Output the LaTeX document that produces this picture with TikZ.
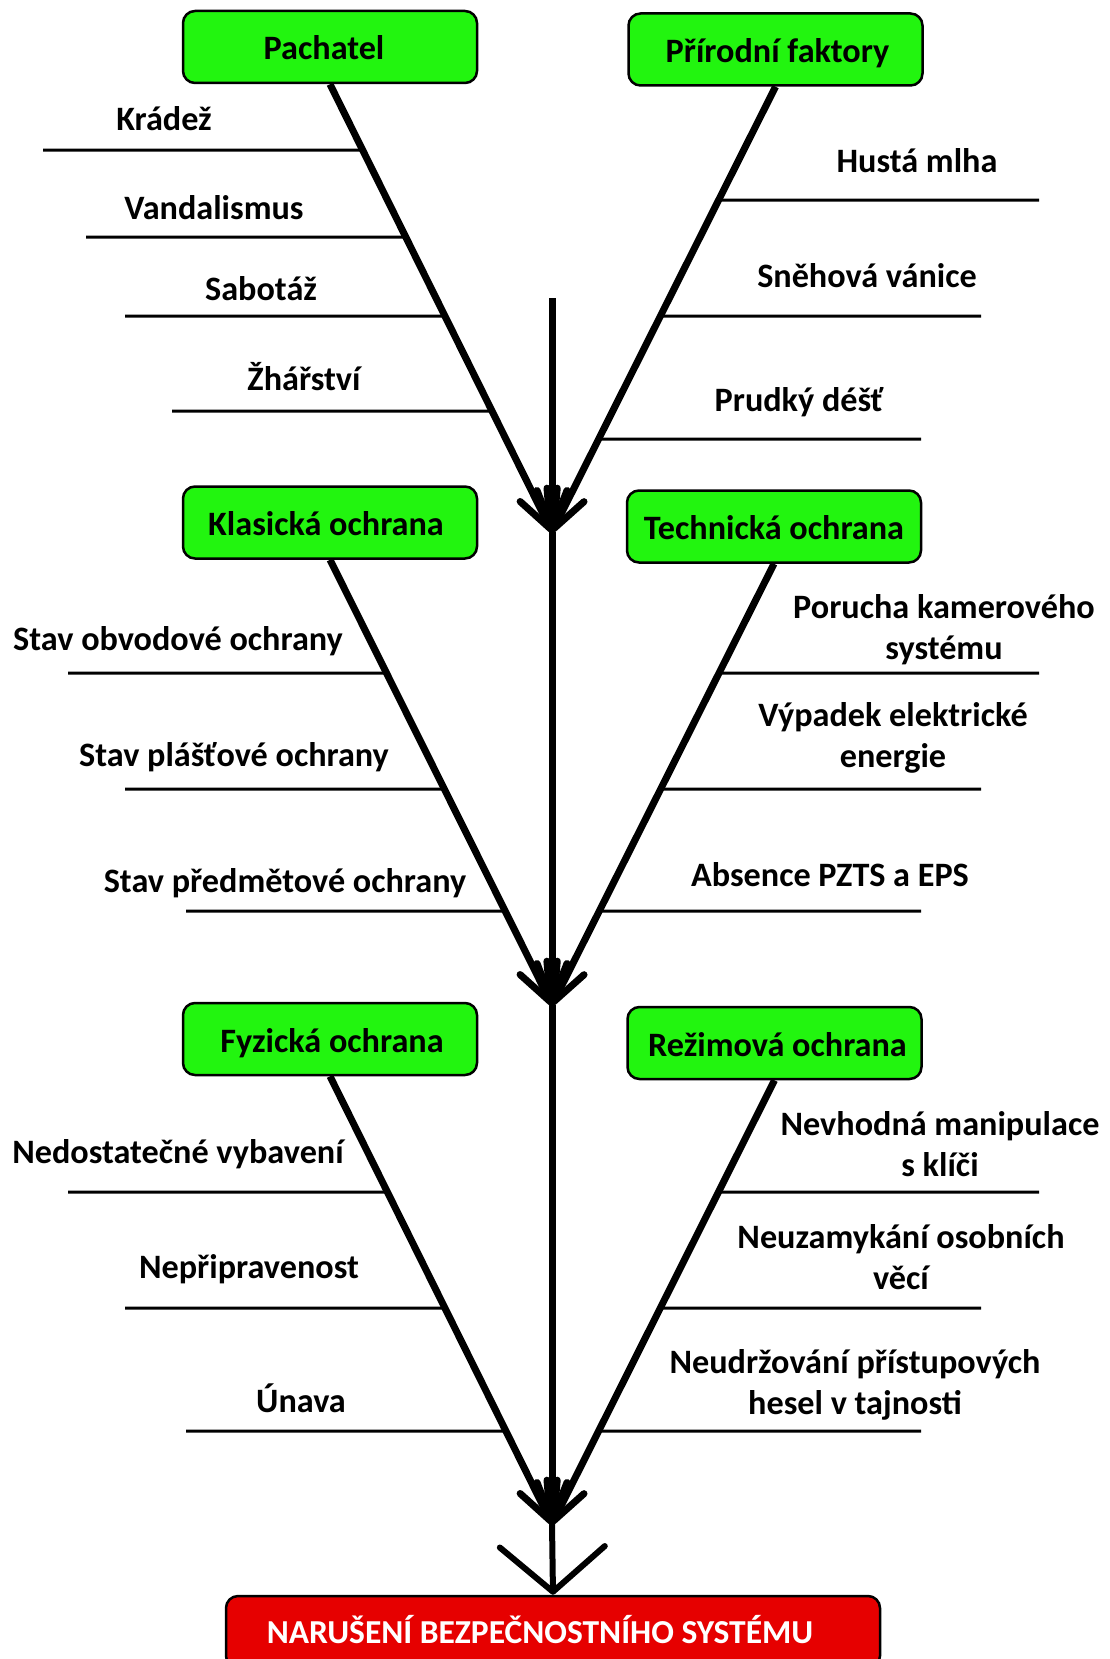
\documentclass[tikz,border=0pt]{standalone}
\usepackage{fontspec}
\setmainfont{Carlito}
\usetikzlibrary{arrows.meta,calc}
\definecolor{boxgreen}{RGB}{34,245,15}
\definecolor{boxred}{RGB}{230,0,0}
\newcommand\ribline[3]{\draw[rib] (#1) -- (intersection cs: first line={(#2)--(#3)}, second line={(#1)--([xshift=10pt]#1)});}
\begin{document}
\begin{tikzpicture}[x=1pt,y=-1pt,
  every node/.style={font=\fontsize{34.2}{41}\selectfont\bfseries},
  catbox/.style={draw=black, line width=2.5pt, fill=boxgreen, rounded corners=12pt,
    minimum width=294pt, minimum height=72pt, inner sep=0pt, text height=26pt, text depth=0pt},
  goalbox/.style={draw=black, line width=2.5pt, fill=boxred, rounded corners=12pt, text=white,
    minimum width=654pt, minimum height=72pt, inner sep=0pt, text height=23pt, text depth=0pt,
    font=\fontsize{33.5}{40}\selectfont\bfseries},
  lbl/.style={anchor=base, align=center, inner sep=0pt},
  spine/.style={line width=7pt, -{Straight Barb[length=38pt,width=30pt,round]}},
  bigspine/.style={line width=6pt, -{Straight Barb[length=45pt,width=105pt,round]}},
  rib/.style={line width=3pt},
]
\useasboundingbox (0,0) rectangle (1109,1659);

% category boxes
\node[catbox] (pach) at (330,47) {Pachatel\hspace*{12pt}};
\node[catbox] (prir) at (775.5,49.5) {\hspace*{4pt}Přírodní faktory};
\node[catbox] (klas) at (330,522.5) {Klasická ochrana\hspace*{8pt}};
\node[catbox] (tech) at (774,526.5) {Technická ochrana};
\node[catbox] (fyz) at (330,1039) {\hspace*{4pt}Fyzická ochrana};
\node[catbox] (rez) at (774.5,1043) {\hspace*{6pt}Režimová ochrana};
\node[goalbox] (goal) at (553,1632) {NARUŠENÍ BEZPEČNOSTNÍHO SYSTÉMU\hspace*{26pt}};

% spine points
\coordinate (top) at (552,298);
\coordinate (t1) at (552,532);
\coordinate (t2) at (552,1005);
\coordinate (t3) at (552,1524);

% rib free ends
\coordinate (a1) at (43,150);  \coordinate (a2) at (86,237);  \coordinate (a3) at (125,316); \coordinate (a4) at (172,411);
\coordinate (b1) at (1039,200); \coordinate (b2) at (981,316); \coordinate (b3) at (921,439);
\coordinate (c1) at (68,673);  \coordinate (c2) at (125,789); \coordinate (c3) at (186,911);
\coordinate (d1) at (1039,673); \coordinate (d2) at (981,789); \coordinate (d3) at (921,911);
\coordinate (e1) at (68,1192); \coordinate (e2) at (125,1308); \coordinate (e3) at (186,1431);
\coordinate (f1) at (1039,1192); \coordinate (f2) at (981,1308); \coordinate (f3) at (921,1431);

% ribs
\ribline{a1}{pach.south}{t1}\ribline{a2}{pach.south}{t1}\ribline{a3}{pach.south}{t1}\ribline{a4}{pach.south}{t1}
\ribline{b1}{prir.south}{t1}\ribline{b2}{prir.south}{t1}\ribline{b3}{prir.south}{t1}
\ribline{c1}{klas.south}{t2}\ribline{c2}{klas.south}{t2}\ribline{c3}{klas.south}{t2}
\ribline{d1}{tech.south}{t2}\ribline{d2}{tech.south}{t2}\ribline{d3}{tech.south}{t2}
\ribline{e1}{fyz.south}{t3}\ribline{e2}{fyz.south}{t3}\ribline{e3}{fyz.south}{t3}
\ribline{f1}{rez.south}{t3}\ribline{f2}{rez.south}{t3}\ribline{f3}{rez.south}{t3}

% main arrows
\draw[spine] (pach.south) -- (t1);
\draw[spine] (prir.south) -- (t1);
\draw[spine] (top) -- (t1);
\draw[spine] (klas.south) -- (t2);
\draw[spine] (tech.south) -- (t2);
\draw[spine] (t1) -- (t2);
\draw[spine] (fyz.south) -- (t3);
\draw[spine] (rez.south) -- (t3);
\draw[spine] (t2) -- (t3);
\draw[bigspine] (t3) -- (goal.north);

% labels
\node[lbl] (l1) at (164,131) {Krádež};
\node[lbl] (l2) at (214,219) {Vandalismus};
\node[lbl] (l3) at (261,300) {Sabotáž};
\node[lbl] (l4) at (304,390) {Žhářství};
\node[lbl] (r1) at (917,172) {Hustá mlha};
\node[lbl] (r2) at (867,287) {Sněhová vánice};
\node[lbl] (r3) at (799,411) {Prudký déšť};
\node[lbl] (l5) at (178,650) {Stav obvodové ochrany};
\node[lbl] (l6) at (234,766) {Stav plášťové ochrany};
\node[lbl] (l7) at (285,892) {Stav předmětové ochrany};
\node[lbl] (r4) at (944,659) {Porucha kamerového\\systému};
\node[lbl] (r5) at (893,767) {Výpadek elektrické\\energie};
\node[lbl] (r6) at (830,886) {Absence PZTS a EPS};
\node[lbl] (l8) at (178,1163) {Nedostatečné vybavení};
\node[lbl] (l9) at (249,1278) {Nepřipravenost};
\node[lbl] (l10) at (301,1412) {Únava};
\node[lbl] (r7) at (940,1176) {Nevhodná manipulace\\s klíči};
\node[lbl] (r8) at (901,1289) {Neuzamykání osobních\\věcí};
\node[lbl] (r9) at (855,1414) {Neudržování přístupových\\hesel v tajnosti};
\end{tikzpicture}
\end{document}
